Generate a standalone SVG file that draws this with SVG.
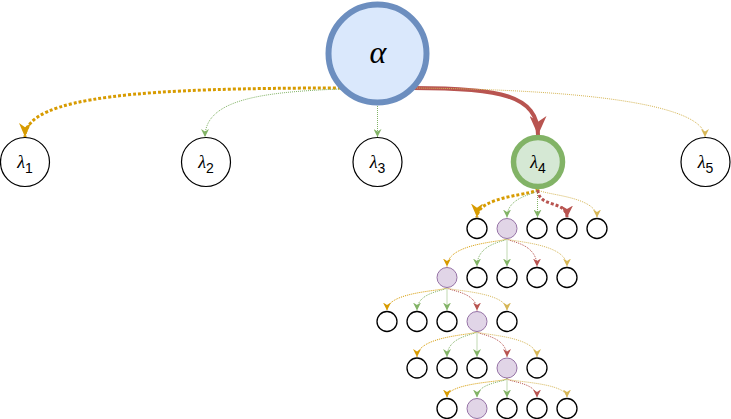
<svg xmlns="http://www.w3.org/2000/svg" width="731" height="419" viewBox="0 0 731 419">
<style>
.leaf{fill:#ffffff;stroke:#000000;stroke-width:1.3}
.pur{fill:#e1d5e7;stroke:#9673a6;stroke-width:1}
.lamn{fill:#ffffff;stroke:#000000;stroke-width:1.2}
.lam{font-family:"Liberation Serif","DejaVu Serif",serif;font-style:italic;font-size:18px;fill:#000}
.sub{font-family:"Liberation Sans",Arial,sans-serif;font-size:14px;fill:#000}
.e{fill:none}
.thin{stroke-width:1;stroke-dasharray:1 1}
.thick{stroke-width:3;stroke-dasharray:3 2}
.go{stroke:#d79b00}.gr{stroke:#82b366}.rd{stroke:#b85450}.ye{stroke:#d6b656}
.go.thin{marker-end:url(#mgo)}.gr.thin{marker-end:url(#mgr)}.rd.thin{marker-end:url(#mrd)}.ye.thin{marker-end:url(#mye)}
</style>
<defs>
<marker id="mgo" viewBox="0 0 10 10" refX="10" refY="5" markerWidth="8" markerHeight="8" markerUnits="userSpaceOnUse" orient="auto" preserveAspectRatio="none"><path d="M0,0 L10,5 L0,10 L3,5 z" fill="#d79b00"/></marker>
<marker id="mgr" viewBox="0 0 10 10" refX="10" refY="5" markerWidth="8" markerHeight="8" markerUnits="userSpaceOnUse" orient="auto" preserveAspectRatio="none"><path d="M0,0 L10,5 L0,10 L3,5 z" fill="#82b366"/></marker>
<marker id="mrd" viewBox="0 0 10 10" refX="10" refY="5" markerWidth="8" markerHeight="8" markerUnits="userSpaceOnUse" orient="auto" preserveAspectRatio="none"><path d="M0,0 L10,5 L0,10 L3,5 z" fill="#b85450"/></marker>
<marker id="mye" viewBox="0 0 10 10" refX="10" refY="5" markerWidth="8" markerHeight="8" markerUnits="userSpaceOnUse" orient="auto" preserveAspectRatio="none"><path d="M0,0 L10,5 L0,10 L3,5 z" fill="#d6b656"/></marker>
<marker id="mgoL" viewBox="0 0 10 10" refX="10" refY="5" markerWidth="14" markerHeight="12" markerUnits="userSpaceOnUse" orient="auto" preserveAspectRatio="none"><path d="M0,0 L10,5 L0,10 L3,5 z" fill="#d79b00"/></marker>
<marker id="mrdM" viewBox="0 0 10 10" refX="10" refY="5" markerWidth="12" markerHeight="12" markerUnits="userSpaceOnUse" orient="auto" preserveAspectRatio="none"><path d="M0,0 L10,5 L0,10 L3,5 z" fill="#b85450"/></marker>
<marker id="mrdL" viewBox="0 0 10 10" refX="10" refY="5" markerWidth="19" markerHeight="17" markerUnits="userSpaceOnUse" orient="auto" preserveAspectRatio="none"><path d="M0,0 L10,5 L0,10 L3,5 z" fill="#b85450"/></marker>
</defs>
<g id="connectors">
<path class="e go thick" d="M341,88 C150,88 25,95 25,137" marker-end="url(#mgoL)"/>
<path class="e gr thin" d="M341,89 C260,92 205,100 205,137"/>
<path class="e gr thin" d="M377.5,106 L377.5,137"/>
<path class="e rd" stroke-width="4" d="M413,88 C500,88 538,95 538,135" marker-end="url(#mrdL)"/>
<path class="e ye thin" d="M413,88 C620,90 705,110 705,137"/>
<path class="e go" stroke-width="3" stroke-dasharray="3 2" d="M538,189 C538,195 477,195 477,217.5" marker-end="url(#mgoL)"/>
<path class="e gr thin" d="M538,189 C538,195 507,195 507,217.5"/>
<path class="e gr thin" d="M537.5,189 L537.5,217.5"/>
<path class="e rd" stroke-width="3" stroke-dasharray="3 2" d="M538,190 C538,208 567,200 567,217.5" marker-end="url(#mrdM)"/>
<path class="e ye thin" d="M538,189 C538,195 597,195 597,217.5"/>
<path class="e go thin" d="M507,238.5 C507,242 447,242 447,266.5"/>
<path class="e gr thin" d="M507,238.5 C507,242 477,242 477,266.5"/>
<path class="e gr thin" d="M507,238.5 L507,266.5"/>
<path class="e rd thin" d="M507,238.5 C507,242 537,242 537,266.5"/>
<path class="e ye thin" d="M507,238.5 C507,242 567,242 567,266.5"/>
<path class="e go thin" d="M447,287.5 C447,291 387,291 387,310.5"/>
<path class="e gr thin" d="M447,287.5 C447,291 417,291 417,310.5"/>
<path class="e gr thin" d="M447,287.5 L447,310.5"/>
<path class="e rd thin" d="M447,287.5 C447,291 477,291 477,310.5"/>
<path class="e ye thin" d="M447,287.5 C447,291 507,291 507,310.5"/>
<path class="e go thin" d="M477,331.5 C477,335 417,335 417,357"/>
<path class="e gr thin" d="M477,331.5 C477,335 447,335 447,357"/>
<path class="e gr thin" d="M477,331.5 L477,357"/>
<path class="e rd thin" d="M477,331.5 C477,335 507,335 507,357"/>
<path class="e ye thin" d="M477,331.5 C477,335 537,335 537,357"/>
<path class="e go thin" d="M507,378.5 C507,382 447,382 447,397.5"/>
<path class="e gr thin" d="M507,378.5 C507,382 477,382 477,397.5"/>
<path class="e gr thin" d="M507,378.5 L507,397.5"/>
<path class="e rd thin" d="M507,378.5 C507,382 537,382 537,397.5"/>
<path class="e ye thin" d="M507,378.5 C507,382 567,382 567,397.5"/>
</g>
<g id="alpha">
<circle cx="377.5" cy="53.5" r="49" fill="#dae8fc" stroke="#6c8ebf" stroke-width="6"/>
<text x="378" y="63" text-anchor="middle" font-family="'Liberation Serif','DejaVu Serif',serif" font-style="italic" font-size="32">α</text>
</g>
<g id="lambda1"><circle class="lamn" cx="25" cy="162" r="24.5"/><text x="25" y="168" text-anchor="middle"><tspan class="lam">λ</tspan><tspan class="sub" dy="5">1</tspan></text></g>
<g id="lambda2"><circle class="lamn" cx="206" cy="162" r="24.5"/><text x="206" y="168" text-anchor="middle"><tspan class="lam">λ</tspan><tspan class="sub" dy="5">2</tspan></text></g>
<g id="lambda3"><circle class="lamn" cx="377.5" cy="162" r="24.5"/><text x="377.5" y="168" text-anchor="middle"><tspan class="lam">λ</tspan><tspan class="sub" dy="5">3</tspan></text></g>
<g id="lambda4"><circle cx="538" cy="162" r="24.5" fill="#d5e8d4" stroke="#82b366" stroke-width="5.5"/><text x="538" y="168" text-anchor="middle"><tspan class="lam">λ</tspan><tspan class="sub" dy="5">4</tspan></text></g>
<g id="lambda5"><circle class="lamn" cx="705.5" cy="162" r="24.5"/><text x="705.5" y="168" text-anchor="middle"><tspan class="lam">λ</tspan><tspan class="sub" dy="5">5</tspan></text></g>
<g id="l1n1"><circle class="leaf" cx="477" cy="228.5" r="10"/></g>
<g id="l1n2"><circle class="pur" cx="507" cy="228.5" r="10"/></g>
<g id="l1n3"><circle class="leaf" cx="537" cy="228.5" r="10"/></g>
<g id="l1n4"><circle class="leaf" cx="567" cy="228.5" r="10"/></g>
<g id="l1n5"><circle class="leaf" cx="597" cy="228.5" r="10"/></g>
<g id="l2n1"><circle class="pur" cx="447" cy="277.5" r="10"/></g>
<g id="l2n2"><circle class="leaf" cx="477" cy="277.5" r="10"/></g>
<g id="l2n3"><circle class="leaf" cx="507" cy="277.5" r="10"/></g>
<g id="l2n4"><circle class="leaf" cx="537" cy="277.5" r="10"/></g>
<g id="l2n5"><circle class="leaf" cx="567" cy="277.5" r="10"/></g>
<g id="l3n1"><circle class="leaf" cx="387" cy="321.5" r="10"/></g>
<g id="l3n2"><circle class="leaf" cx="417" cy="321.5" r="10"/></g>
<g id="l3n3"><circle class="leaf" cx="447" cy="321.5" r="10"/></g>
<g id="l3n4"><circle class="pur" cx="477" cy="321.5" r="10"/></g>
<g id="l3n5"><circle class="leaf" cx="507" cy="321.5" r="10"/></g>
<g id="l4n1"><circle class="leaf" cx="417" cy="368" r="10"/></g>
<g id="l4n2"><circle class="leaf" cx="447" cy="368" r="10"/></g>
<g id="l4n3"><circle class="leaf" cx="477" cy="368" r="10"/></g>
<g id="l4n4"><circle class="pur" cx="507" cy="368" r="10"/></g>
<g id="l4n5"><circle class="leaf" cx="537" cy="368" r="10"/></g>
<g id="l5n1"><circle class="leaf" cx="447" cy="408.5" r="10"/></g>
<g id="l5n2"><circle class="pur" cx="477" cy="408.5" r="10"/></g>
<g id="l5n3"><circle class="leaf" cx="507" cy="408.5" r="10"/></g>
<g id="l5n4"><circle class="leaf" cx="537" cy="408.5" r="10"/></g>
<g id="l5n5"><circle class="leaf" cx="567" cy="408.5" r="10"/></g>
</svg>
